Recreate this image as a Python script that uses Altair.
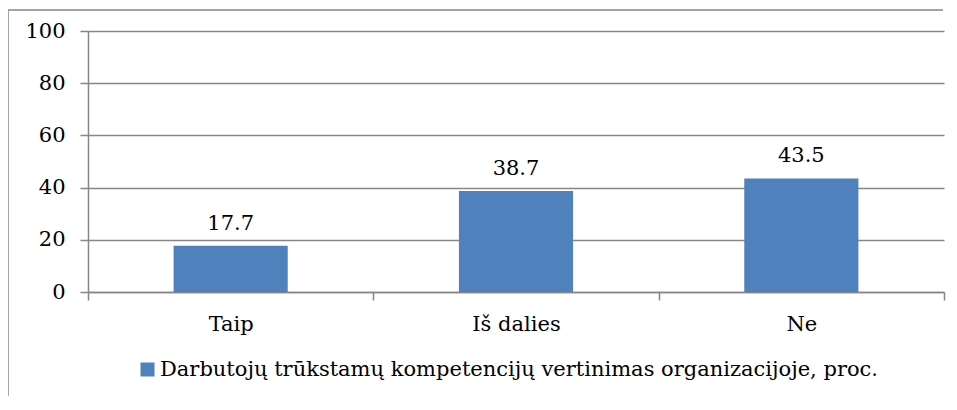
import altair as alt
import pandas as pd

categories = ["Taip", "Iš dalies", "Ne"]
values = [17.7, 38.7, 43.5]
series_name = "Darbutojų trūkstamų kompetencijų vertinimas organizacijoje, proc."
y_ticks = [0, 20, 40, 60, 80, 100]

df = pd.DataFrame({"cat": categories, "val": values, "series": [series_name] * len(categories)})

FONT = "DejaVu Serif"
FS = 21
GRAY = "#868686"
BLUE = "#4F81BD"

W, H = 856, 261
PAD = {"left": 80, "top": 23, "right": 5, "bottom": 110}

x_enc = alt.X(
    "cat:N",
    sort=categories,
    scale=alt.Scale(paddingInner=0, paddingOuter=0),
    axis=alt.Axis(
        title=None, labelAngle=0, tickBand="extent", tickSize=8, tickColor=GRAY,
        tickWidth=1.5, domainColor=GRAY, domainWidth=1.5, labelFontSize=FS,
        labelFont=FONT, labelColor="black", labelPadding=13, grid=False,
    ),
)
y_enc = alt.Y(
    "val:Q",
    scale=alt.Scale(domain=[0, 100], nice=False),
    axis=alt.Axis(
        title=None, values=y_ticks, tickSize=8, tickColor=GRAY, tickWidth=1.5,
        domainColor=GRAY, domainWidth=1.5, gridColor=GRAY, gridWidth=1.5,
        labelFontSize=FS, labelFont=FONT, labelColor="black", labelPadding=15,
    ),
)

bars = alt.Chart(df).mark_bar(width={"band": 0.4}, color=BLUE).encode(
    x=x_enc,
    y=y_enc,
    color=alt.Color(
        "series:N",
        scale=alt.Scale(range=[BLUE]),
        legend=alt.Legend(
            title=None, orient="none", legendX=49, legendY=328, symbolType="square",
            symbolSize=196, symbolStrokeWidth=0, labelFontSize=FS, labelFont=FONT,
            labelColor="black", labelOffset=2, labelLimit=0, padding=0,
        ),
    ),
)

labels = alt.Chart(df).mark_text(
    baseline="alphabetic", dy=-16, fontSize=FS, font=FONT, color="black"
).encode(
    x=alt.X("cat:N", sort=categories),
    y=alt.Y("val:Q"),
    text=alt.Text("val:Q", format=".1f"),
)

one = pd.DataFrame({"a": [0]})
frame_top = alt.Chart(one).mark_rule(color=GRAY, strokeWidth=1.5, clip=False).encode(
    x=alt.value(-80), x2=alt.value(W - 1), y=alt.value(-21)
)
frame_left = alt.Chart(one).mark_rule(color=GRAY, strokeWidth=1.5, clip=False).encode(
    x=alt.value(-80), y=alt.value(-21), y2=alt.value(H + 104)
)

chart = alt.layer(frame_top, frame_left, bars, labels).properties(
    width=W, height=H,
    autosize=alt.AutoSizeParams(type="none"),
    padding=PAD,
).configure_view(stroke=None)

chart.save("out.html", embed_options={"renderer": "svg", "actions": False})
